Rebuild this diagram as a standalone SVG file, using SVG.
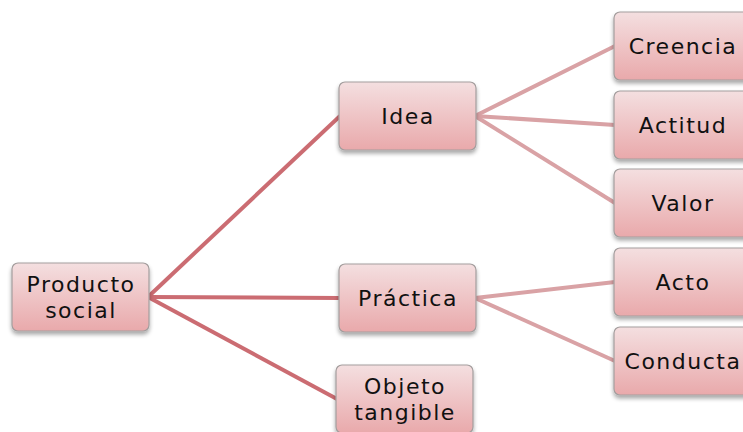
<svg xmlns="http://www.w3.org/2000/svg" width="743" height="432" viewBox="0 0 743 432">
<defs>
<linearGradient id="g" x1="0" y1="0" x2="0" y2="1">
<stop offset="0" stop-color="#f4dfe0"/>
<stop offset="1" stop-color="#e9a9ab"/>
</linearGradient>
<filter id="sh" x="-10%" y="-10%" width="120%" height="130%">
<feGaussianBlur in="SourceAlpha" stdDeviation="2"/>
<feOffset dx="0" dy="3"/>
<feComponentTransfer><feFuncA type="linear" slope="0.35"/></feComponentTransfer>
<feMerge><feMergeNode/><feMergeNode in="SourceGraphic"/></feMerge>
</filter>
</defs>
<style>
.box{fill:url(#g);stroke:#a39d9d;stroke-width:1.2;filter:url(#sh)}
.t{font-family:"DejaVu Sans","Liberation Sans",sans-serif;font-size:22px;letter-spacing:1.5px;fill:#111;text-anchor:middle}
.c1{stroke:#cb6c72;stroke-width:4;fill:none}
.c2{stroke:#d9a2a5;stroke-width:4;fill:none}
</style>
<g id="connectors">
<line class="c1" x1="148" y1="297" x2="340" y2="116"/>
<line class="c1" x1="148" y1="297" x2="340" y2="298"/>
<line class="c1" x1="148" y1="297" x2="337" y2="399"/>
<line class="c2" x1="475" y1="116" x2="615" y2="46"/>
<line class="c2" x1="475" y1="116" x2="615" y2="125"/>
<line class="c2" x1="475" y1="116" x2="615" y2="203"/>
<line class="c2" x1="475" y1="298" x2="615" y2="282"/>
<line class="c2" x1="475" y1="298" x2="615" y2="361"/>
</g>
<g id="producto">
<rect class="box" x="12" y="263" width="137" height="68" rx="6"/>
<text class="t" x="81" y="292">Producto</text>
<text class="t" x="81" y="318">social</text>
</g>
<g id="idea">
<rect class="box" x="339" y="82" width="137" height="68" rx="6"/>
<text class="t" x="408" y="124">Idea</text>
</g>
<g id="practica">
<rect class="box" x="339" y="264" width="137" height="68" rx="6"/>
<text class="t" x="408" y="306">Práctica</text>
</g>
<g id="objeto">
<rect class="box" x="336" y="365" width="137" height="68" rx="6"/>
<text class="t" x="405" y="394">Objeto</text>
<text class="t" x="405" y="420">tangible</text>
</g>
<g id="creencia">
<rect class="box" x="614" y="12" width="137" height="68" rx="6"/>
<text class="t" x="683" y="54">Creencia</text>
</g>
<g id="actitud">
<rect class="box" x="614" y="91" width="137" height="68" rx="6"/>
<text class="t" x="683" y="133">Actitud</text>
</g>
<g id="valor">
<rect class="box" x="614" y="169" width="137" height="68" rx="6"/>
<text class="t" x="683" y="211">Valor</text>
</g>
<g id="acto">
<rect class="box" x="614" y="248" width="137" height="68" rx="6"/>
<text class="t" x="683" y="290">Acto</text>
</g>
<g id="conducta">
<rect class="box" x="614" y="327" width="137" height="68" rx="6"/>
<text class="t" x="683" y="369">Conducta</text>
</g>
</svg>
